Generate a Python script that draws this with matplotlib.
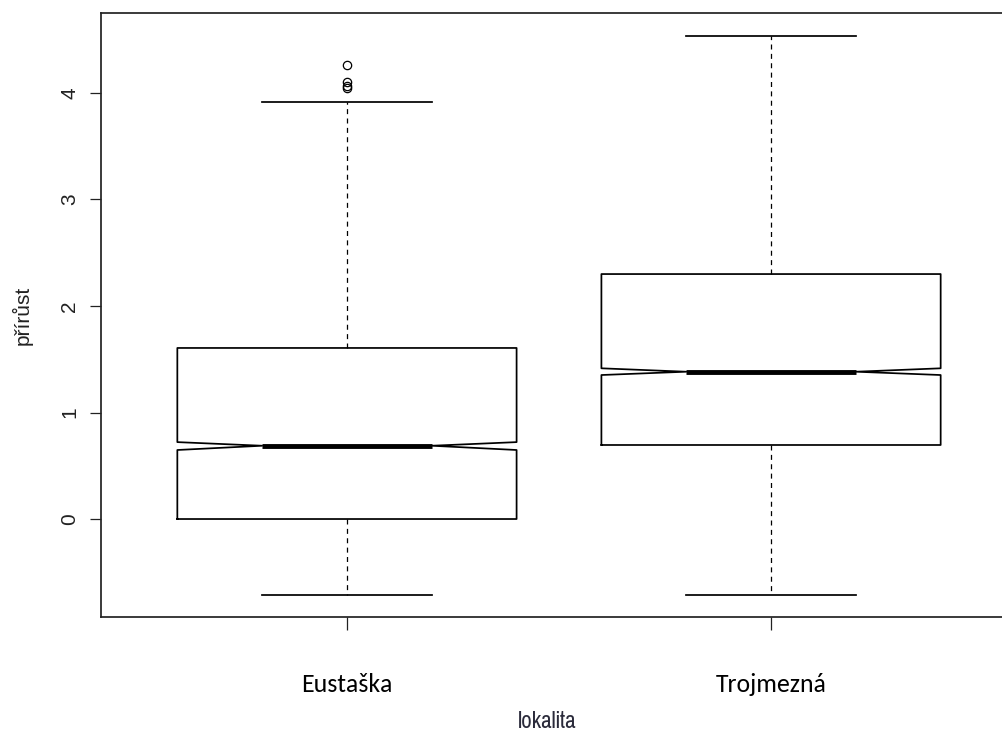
import matplotlib
matplotlib.use("Agg")
import matplotlib.pyplot as plt

# Data
categories = ["Eustaška", "Trojmezná"]
medians = [0.688, 1.383]
q1s = [0.0, 0.695]
q3s = [1.606, 2.300]
whisk_lo = [-0.711, -0.711]
whisk_hi = [3.912, 4.535]
notch_lo = [0.648, 1.352]
notch_hi = [0.722, 1.415]
fliers = [[4.263, 4.10, 4.07, 4.05], []]
y_ticks = [0, 1, 2, 3, 4]

stats = []
for i, name in enumerate(categories):
    stats.append(dict(label=name, med=medians[i], q1=q1s[i], q3=q3s[i],
                      whislo=whisk_lo[i], whishi=whisk_hi[i],
                      cilo=notch_lo[i], cihi=notch_hi[i], fliers=fliers[i]))

fig = plt.figure(figsize=(10.03, 7.35), dpi=100)
W, H = 1003, 735
left, right, top, bottom = 101, 1017, 13, 617
ax = fig.add_axes([left / W, 1 - bottom / H, (right - left) / W, (bottom - top) / H])

ax.bxp(stats, positions=[1, 2], widths=0.8, shownotches=True,
       boxprops=dict(color="black", linewidth=1.25),
       medianprops=dict(color="black", linewidth=3.5, solid_capstyle="butt"),
       whiskerprops=dict(color="black", linewidth=0.9, linestyle=(0, (4, 3.5))),
       capprops=dict(color="black", linewidth=1.25),
       flierprops=dict(marker="o", markerfacecolor="none", markeredgecolor="black",
                       markersize=6, markeredgewidth=0.9))

ax.set_xlim(0.42, 2.58)
ax.set_ylim(-0.92, 4.751)

for s in ax.spines.values():
    s.set_color("#222222")
    s.set_linewidth(1.25)

ax.set_yticks(y_ticks)
ax.set_yticklabels([str(v) for v in y_ticks], rotation=90, va="center",
                   fontfamily="Liberation Sans", fontsize=15, color="#222222")
ax.tick_params(axis="y", length=8, width=0.9, pad=7.5, color="#222222")

ax.set_xticks([1, 2])
ax.set_xticklabels(categories, fontfamily="Carlito", fontsize=18.5, color="black")
ax.tick_params(axis="x", length=9, width=0.9, pad=31, color="#222222")

fig.text(22 / W, 1 - 315 / H, "přírůst", rotation=90, ha="center", va="center",
         fontfamily="Liberation Sans", fontsize=15, color="#222222")

fig.text(547 / W, 1 - 722 / H, "lokalita", ha="center", va="center",
         fontfamily="Pragati Narrow", fontsize=18, color="#2a2a3a")

fig.savefig("out.png", dpi=100)
